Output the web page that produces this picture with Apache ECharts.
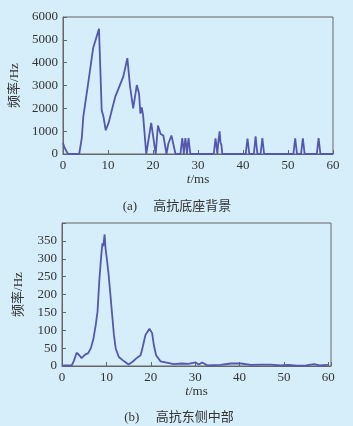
<!DOCTYPE html>
<html>
<head>
<meta charset="utf-8">
<script src="https://cdn.jsdelivr.net/npm/echarts@6/dist/echarts.min.js"></script>
<style>
  html, body { margin: 0; padding: 0; background: #d6eefa; }
  #main { width: 353px; height: 426px; }
</style>
</head>
<body>
<div id="main"></div>
<script>
// (a) 高抗底座背景
var timeA = [0, 0.3, 1.1, 3.6, 4.2, 4.5, 5.6, 6.7, 8.0, 8.6, 9.0, 9.5, 10.1, 11.6, 13.4, 14.3, 14.9, 15.6, 16.4, 16.9, 17.2, 17.5, 17.8, 18.5,
  19.6, 20.6, 21.1, 21.7, 22.3, 23.0, 23.4, 24.1, 25.0,
  26.1, 26.3, 26.5, 26.7, 26.85, 27.0, 27.2, 27.4, 27.55, 27.7, 27.9, 28.1, 28.3,
  33.5, 33.7, 33.9, 34.1, 34.3, 34.5, 34.8, 35.0, 35.2, 35.4,
  40.6, 40.8, 41.0, 41.2, 41.4,
  42.4, 42.6, 42.8, 43.0, 43.2,
  43.9, 44.1, 44.3, 44.5, 44.7,
  51.2, 51.4, 51.6, 51.8, 52.0,
  52.9, 53.1, 53.3, 53.5, 53.7,
  56.4, 56.6, 56.8, 57.0, 57.2, 60];
var freqA = [480, 300, 0, 0, 740, 1620, 3100, 4640, 5480, 1920, 1620, 1040, 1340, 2500, 3390, 4200, 2950, 2000, 3020, 2650, 1770, 2040, 1700, 0,
  1360, 0, 1250, 880, 810, 0, 450, 810, 0,
  0, 350, 700, 350, 0, 350, 700, 350, 0, 350, 700, 350, 0,
  0, 350, 680, 350, 0, 500, 990, 500, 400, 0,
  0, 350, 670, 350, 0,
  0, 380, 770, 380, 0,
  0, 350, 700, 350, 0,
  0, 350, 690, 350, 0,
  0, 350, 690, 350, 0,
  0, 350, 700, 350, 0, 0];

// (b) 高抗东侧中部
var timeB = [0, 2.2, 2.7, 3.3, 3.9, 4.4, 5.2, 5.9, 6.5, 7.1, 7.6, 8.0, 8.4, 8.8, 9.1, 9.3, 9.6, 9.8, 10.1, 10.5, 10.9, 11.3, 11.7, 12.1, 12.8,
  14.0, 15.0, 15.9, 17.0, 17.7, 18.2, 18.8, 19.7, 20.3, 20.7, 21.2, 22.2, 24.1, 25.2, 27, 28.5, 30.1, 30.8, 31.6, 32.7,
  35.7, 38, 40.3, 42.5, 45, 47, 49.2, 51, 53, 55, 56.8, 58, 59.9];
var freqB = [2, 2, 15, 37, 30, 22, 32, 36, 50, 77, 115, 152, 237, 303, 343, 335, 368, 330, 300, 256, 200, 143, 87, 49, 25,
  13, 4, 12, 24, 30, 54, 87, 104, 92, 58, 30, 13, 8, 5, 7, 6, 10, 4, 10, 2,
  3, 7, 7, 3, 4, 4, 2, 3, 1, 2, 5, 2, 3];

var xTicks = [0, 10, 20, 30, 40, 50, 60];
var captionA = '(a)     高抗底座背景';
var captionB = '(b)     高抗东侧中部';

function pairs(xs, ys) {
  return xs.map(function(x, i) { return [x, ys[i]]; });
}

var serif = '"Liberation Serif", "Times New Roman", serif';
var cjk = '"Liberation Serif", "Noto Sans CJK SC", serif';
var lineColor = '#5357ad';
var boxColor = '#666';

function xAxisOf(gridIndex, max) {
  return {
    type: 'value', gridIndex: gridIndex, min: 0, max: max, interval: 10,
    name: '{i|t}/ms', nameLocation: 'middle', nameGap: 19,
    nameTextStyle: {
      fontFamily: serif, fontSize: 13, color: '#333',
      rich: { i: { fontStyle: 'italic', fontFamily: serif, fontSize: 13, color: '#333' } }
    },
    axisLine: { lineStyle: { color: boxColor, width: 1 } },
    axisTick: { inside: true, length: 4, lineStyle: { color: boxColor } },
    axisLabel: {
      margin: 5, fontFamily: serif, fontSize: 13, color: '#333',
      formatter: function(v) { return xTicks.indexOf(v) >= 0 ? v : ''; }
    },
    splitLine: { show: false }
  };
}

function yAxisOf(gridIndex, max, interval, hideTop) {
  return {
    type: 'value', gridIndex: gridIndex, min: 0, max: max, interval: interval,
    name: '频率/Hz', nameLocation: 'middle', nameGap: hideTop ? 37 : 42,
    nameTextStyle: { fontFamily: cjk, fontSize: 13, color: '#333' },
    axisLine: { lineStyle: { color: boxColor, width: 1 } },
    axisTick: { inside: true, length: 4, lineStyle: { color: boxColor } },
    axisLabel: {
      margin: 5, fontFamily: serif, fontSize: 13, color: '#333',
      formatter: function(v) { return (hideTop && v === max) ? '' : v; }
    },
    splitLine: { show: false }
  };
}

var myChart = echarts.init(document.getElementById('main'));
var option = {
  backgroundColor: '#d6eefa',
  animation: false,
  title: [
    { text: captionA, left: 172, top: 195, textAlign: 'center',
      textStyle: { fontFamily: cjk, fontSize: 13, fontWeight: 'normal', color: '#333' } },
    { text: captionB, left: 174, top: 406, textAlign: 'center',
      textStyle: { fontFamily: cjk, fontSize: 13, fontWeight: 'normal', color: '#333' } }
  ],
  grid: [
    { left: 63, top: 17, width: 270, height: 137, show: true, borderColor: boxColor, borderWidth: 1 },
    { left: 62, top: 223, width: 269, height: 143, show: true, borderColor: boxColor, borderWidth: 1 }
  ],
  xAxis: [xAxisOf(0, 60), xAxisOf(1, 60.6)],
  yAxis: [yAxisOf(0, 6000, 1000, false), yAxisOf(1, 400, 50, true)],
  series: [
    {
      type: 'line', xAxisIndex: 0, yAxisIndex: 0, data: pairs(timeA, freqA),
      showSymbol: false, lineStyle: { color: lineColor, width: 1.8 }
    },
    {
      type: 'line', xAxisIndex: 1, yAxisIndex: 1, data: pairs(timeB, freqB),
      showSymbol: false, lineStyle: { color: lineColor, width: 1.8 }
    }
  ]
};
myChart.setOption(option);
</script>
</body>
</html>
